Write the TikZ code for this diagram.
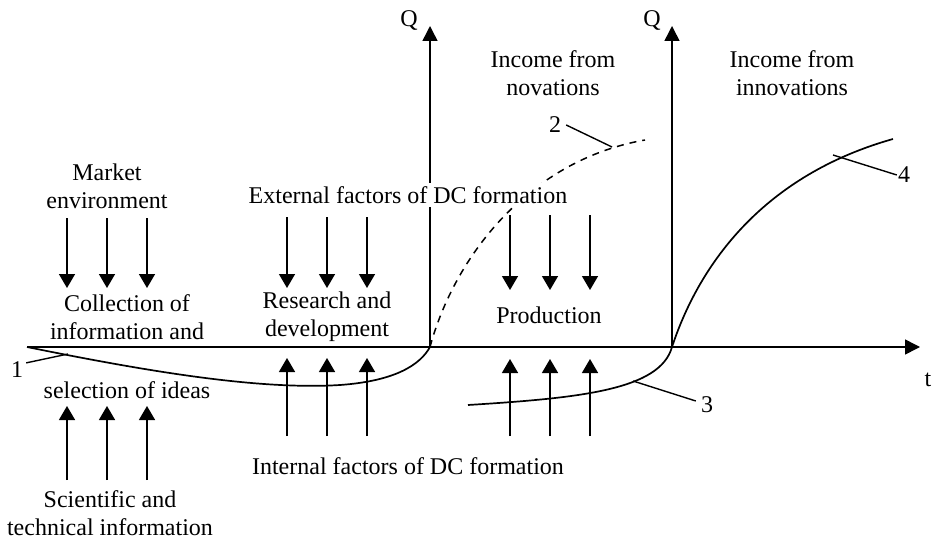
\documentclass[tikz,border=0pt]{standalone}
\usepackage{fontspec}
\setmainfont{Liberation Serif}
\usetikzlibrary{arrows.meta}
\pgfdeclarelayer{background}
\pgfsetlayers{background,main}
\begin{document}
\begin{tikzpicture}[x=1pt,y=-1pt,
  lbl/.style={font=\fontsize{24}{28}\selectfont, align=center, inner sep=1pt},
  wlbl/.style={lbl, fill=white, inner sep=3pt},
  axisarrow/.style={line width=1.5pt,-{Triangle[length=15pt,width=15pt]}},
  farrow/.style={line width=1.5pt,-{Triangle[length=14pt,width=16pt]}},
  curveline/.style={line width=1.7pt},
  leader/.style={line width=1.4pt}]
\useasboundingbox (0,0) rectangle (933,540);

% axes points
\coordinate (start) at (27,347);
\coordinate (tend) at (920,347);
\coordinate (O1) at (430,347);
\coordinate (O2) at (672,347);
\coordinate (Q1top) at (430,26);
\coordinate (Q2top) at (672,26);

% labels
\node[lbl] (q1) at (409,21) {Q};
\node[lbl] (q2) at (652,21) {Q};
\node[lbl] (tl) at (928,380) {t};
\node[lbl] (market) at (107,186) {Market\\environment};
\node[lbl] (collect) at (127,317) {Collection of\\information and};
\node[lbl] (select) at (127,390) {selection of ideas};
\node[lbl] (sci) at (110,513) {Scientific and\\technical information};
\node[wlbl] (ext) at (408,195) {External factors of DC formation};
\node[lbl] (rd) at (327,317) {Research and\\development};
\node[lbl] (prod) at (549,315) {Production};
\node[lbl] (int) at (408,466) {Internal factors of DC formation};
\node[lbl] (inc1) at (553,73) {Income from\\novations};
\node[lbl] (inc2) at (792,73) {Income from\\innovations};
\node[lbl] (n1) at (17,370) {1};
\node[lbl] (n2) at (555,125) {2};
\node[lbl] (n3) at (707,405) {3};
\node[lbl] (n4) at (904,175) {4};

% curve points
\coordinate (c1) at (68,354);
\coordinate (c2) at (612,147);
\coordinate (c3) at (633,381);
\coordinate (c4) at (833,155);
\coordinate (end2) at (645,140);
\coordinate (start3) at (468,405);
\coordinate (end4) at (893,139);

\begin{pgfonlayer}{background}
  % axes
  \draw[axisarrow] (start) -- (tend);
  \draw[axisarrow] (O1) -- (Q1top);
  \draw[axisarrow] (O2) -- (Q2top);

  % curve 1
  \draw[curveline] (start) .. controls (150,372) and (260,390) .. (340,385)
                          .. controls (395,381) and (420,365) .. (O1);
  % curve 2 (dashed)
  \draw[curveline, dash pattern=on 7pt off 6pt, line width=1.5pt]
        (O1) .. controls (455,255) and (530,160) .. (end2);
  % curve 3 and 4
  \draw[curveline] (start3) .. controls (580,398) and (660,390) .. (O2)
                           .. controls (700,262) and (765,175) .. (end4);
\end{pgfonlayer}

% leaders
\draw[leader] (n1.north east) ++(2,2) -- (c1);
\draw[leader] (n2.east) ++(4,0) -- (c2);
\draw[leader] (n3.west) ++(-4,-4) -- (c3);
\draw[leader] (n4.west) -- (c4);

% factor arrows
\foreach \x/\n in {67/a,107/b,147/c}{
  \coordinate (md\n) at (\x,218);
  \coordinate (mt\n) at (\x,288);
  \draw[farrow] (md\n) -- (mt\n);
  \coordinate (sb\n) at (\x,480);
  \coordinate (st\n) at (\x,406);
  \draw[farrow] (sb\n) -- (st\n);
}
\foreach \x/\n in {287/a,327/b,367/c}{
  \coordinate (ed\n) at (\x,217);
  \coordinate (et\n) at (\x,288);
  \draw[farrow] (ed\n) -- (et\n);
  \coordinate (ib\n) at (\x,436);
  \coordinate (it\n) at (\x,358);
  \draw[farrow] (ib\n) -- (it\n);
}
\foreach \x/\n in {510/a,550/b,590/c}{
  \coordinate (pd\n) at (\x,215);
  \coordinate (pt\n) at (\x,290);
  \draw[farrow] (pd\n) -- (pt\n);
  \coordinate (pb\n) at (\x,436);
  \coordinate (pu\n) at (\x,359);
  \draw[farrow] (pb\n) -- (pu\n);
}
\end{tikzpicture}
\end{document}
